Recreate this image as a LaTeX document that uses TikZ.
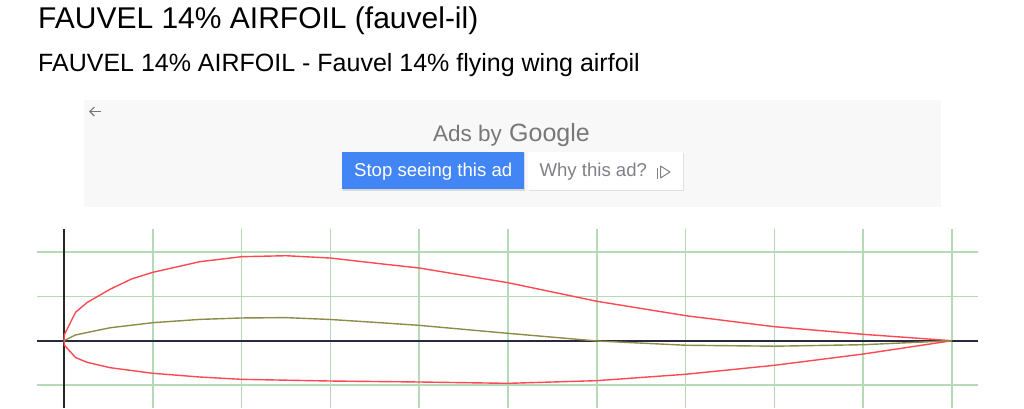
\documentclass[tikz,border=0pt]{standalone}
\usepackage{fontspec}
\setmainfont{Liberation Sans}
\usetikzlibrary{arrows.meta}
\tikzset{>=latex}

\definecolor{adbg}{RGB}{248,248,248}
\definecolor{adtext}{RGB}{120,120,120}
\definecolor{whytext}{RGB}{128,128,136}
\definecolor{gblue}{RGB}{66,133,244}
\definecolor{gridgreen}{RGB}{182,218,182}
\definecolor{axisdark}{RGB}{40,40,64}
\definecolor{foilred}{RGB}{255,72,84}
\definecolor{camberolive}{RGB}{140,140,72}

\tikzset{
  gridline/.style={gridgreen, line width=1.6pt},
  axisline/.style={axisdark, line width=1.8pt},
  foil/.style={foilred, line width=1.4pt, line join=round},
  camber/.style={camberolive, line width=1.4pt, line join=round},
  btntext/.style={inner sep=0pt, font=\fontsize{18.6}{22}\selectfont},
}

\begin{document}
\begin{tikzpicture}[x=1pt, y=-1pt]
\useasboundingbox (0,0) rectangle (1024,408);
% headings
\node[anchor=base west, inner sep=0pt, font=\fontsize{30}{36}\selectfont]
  (title) at (38,28.3) {FAUVEL 14\% AIRFOIL (fauvel-il)};
\node[anchor=base west, inner sep=0pt, font=\fontsize{25}{30}\selectfont]
  (subtitle) at (38,71.7) {FAUVEL 14\% AIRFOIL - Fauvel 14\% flying wing airfoil};
% ad panel
\fill[adbg] (84,100) rectangle (941,207);
\draw[adtext, line width=1.2pt, -{Straight Barb[length=4.5pt,width=9pt]}] (101,111.5) -- (89,111.5);
\node[anchor=base west, inner sep=0pt, text=adtext, font=\fontsize{22.5}{27}\selectfont]
  (adsby) at (433,141.7) {Ads by};
\node[anchor=base west, inner sep=0pt, text=adtext, font=\fontsize{25}{30}\selectfont]
  (google) at (509,141.7) {Google};
% buttons
\fill[black!15] (342.5,153) rectangle (525,190.5);
\fill[gblue] (342,152.3) rectangle (524.3,189.3);
\node[btntext, anchor=base, text=white] (stopbtn) at (433.2,176.7) {Stop seeing this ad};
\fill[black!12] (528.5,152.5) rectangle (683.5,191);
\fill[white] (528,151.7) rectangle (682.7,190);
\node[btntext, anchor=base west, text=whytext] (whybtn) at (539.3,176.7) {Why this ad?};
\draw[whytext, line width=1pt] (657.5,168) -- (657.5,178.5);
\draw[whytext, line width=1pt, line join=round] (660.5,166) -- (670,172) -- (660.5,178) -- cycle;
% grid
\foreach \i in {1,...,10}
  \draw[gridline] (64+88.8*\i,229) -- (64+88.8*\i,408);
\foreach \yy in {251.9,296.3,385.1}
  \draw[gridline] (37,\yy) -- (978,\yy);
% axes
\draw[axisline] (37,340.7) -- (978,340.7);
\draw[black!85, line width=1.5pt] (64,229) -- (64,408);
% airfoil, in chord units
\begin{scope}[shift={(64,340.7)}, x=888pt, y=888pt]
\draw[foil] plot coordinates {(0,0) (0.0005,0.007) (0.013,0.032) (0.026,0.043)
  (0.052,0.058) (0.076,0.0695) (0.1,0.077) (0.153,0.089) (0.2,0.0946)
  (0.25,0.0957) (0.3,0.0931) (0.356,0.0867) (0.4,0.0819) (0.5,0.0653)
  (0.6,0.0444) (0.7,0.0282) (0.8,0.0158) (0.9,0.0072) (1,0)};
\draw[foil] plot coordinates {(0,0) (0.0005,-0.005) (0.013,-0.019) (0.026,-0.0243)
  (0.052,-0.0304) (0.1,-0.0367) (0.153,-0.0409) (0.2,-0.0435) (0.3,-0.0454)
  (0.4,-0.0465) (0.5,-0.048) (0.6,-0.045) (0.7,-0.0378) (0.8,-0.0277)
  (0.9,-0.015) (1,0)};
\draw[camber] plot coordinates {(0,0) (0.013,0.0065) (0.052,0.0146) (0.1,0.0203)
  (0.153,0.024) (0.2,0.0256) (0.25,0.026) (0.3,0.0239) (0.356,0.0203)
  (0.4,0.0173) (0.5,0.0083) (0.6,-0.0003) (0.7,-0.0051) (0.8,-0.0062)
  (0.9,-0.0045) (1,0)};
\end{scope}
\end{tikzpicture}
\end{document}
